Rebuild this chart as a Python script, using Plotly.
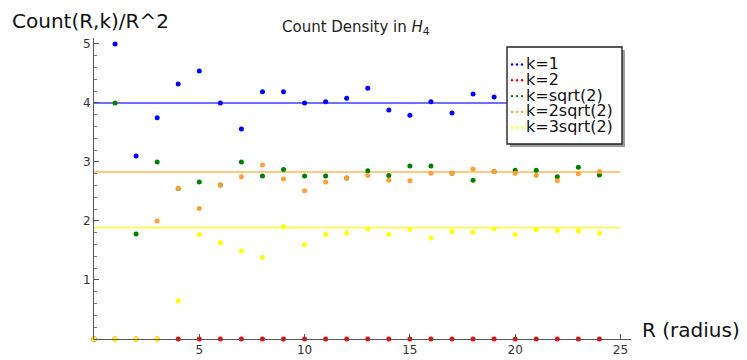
import plotly.graph_objects as go

# ---- data ----
R = list(range(0, 25))
k1 = [0, 5.0, 3.10, 3.75, 4.32, 4.54, 4.0, 3.56, 4.19, 4.19, 4.0, 4.02, 4.08,
      4.25, 3.88, 3.79, 4.02, 3.83, 4.15, 4.10, 4.0, 4.05, 3.98, 4.02, 4.0]
k2 = [0] * 25
ksqrt2 = [0, 4.0, 1.78, 3.0, 2.55, 2.66, 2.61, 3.0, 2.76, 2.87, 2.76, 2.76, 2.73,
          2.85, 2.77, 2.93, 2.93, 2.81, 2.69, 2.84, 2.86, 2.86, 2.75, 2.91, 2.78]
k2sqrt2 = [0, 0, 0, 2.0, 2.55, 2.21, 2.61, 2.75, 2.95, 2.71, 2.51, 2.66, 2.73,
           2.77, 2.69, 2.68, 2.81, 2.81, 2.88, 2.84, 2.81, 2.77, 2.68, 2.80, 2.84]
k3sqrt2 = [0, 0, 0, 0, 0.65, 1.77, 1.63, 1.49, 1.38, 1.90, 1.60, 1.77, 1.79,
           1.87, 1.77, 1.86, 1.71, 1.82, 1.81, 1.87, 1.77, 1.85, 1.84, 1.83, 1.79]
names = ["k=1", "k=2", "k=sqrt(2)", "k=2sqrt(2)", "k=3sqrt(2)"]
ref_x = [0, 25]
ref_levels = [4.0, 2.83, 1.885]

colors = ["#0000ff", "#ff0000", "#008000", "#ffa030", "#ffff00"]
line_colors = ["rgba(40,40,255,0.9)", "rgba(255,165,40,0.8)", "rgba(255,255,0,0.85)"]

# page has an 8px body margin; figure sized to fit the window
OFF = 8
W, H = 747 - OFF, 360 - OFF
# plot area in window pixel coordinates
L, Rr, T, B = 94, 631, 38, 339


def px(x):
    return (x - L) / (Rr - L)


def py(y):
    return (B - y) / (B - T)


fig = go.Figure()
for lvl, lc in zip(ref_levels, line_colors):
    fig.add_trace(go.Scatter(x=ref_x, y=[lvl, lvl], mode="lines",
                             line=dict(color=lc, width=1.5), showlegend=False,
                             hoverinfo="skip"))

for ys, c, n in zip([k1, k2, ksqrt2, k2sqrt2, k3sqrt2], colors, names):
    fig.add_trace(go.Scatter(x=R, y=ys, mode="markers", name=n,
                             marker=dict(color=c, size=5, line=dict(width=0)),
                             cliponaxis=False, showlegend=False))

shapes = []
# legend shadow and box
bx0, bx1, by0, by1 = 507, 622, 47, 144
shapes.append(dict(type="rect", xref="paper", yref="paper",
                   x0=px(bx0 + 3), x1=px(bx1 + 3), y0=py(by0 + 3), y1=py(by1 + 3),
                   fillcolor="rgba(90,90,90,0.6)", line=dict(width=0), layer="above"))
shapes.append(dict(type="rect", xref="paper", yref="paper",
                   x0=px(bx0), x1=px(bx1), y0=py(by0), y1=py(by1),
                   fillcolor="white", line=dict(color="#222", width=1.4), layer="above"))
annotations = []
for i, (n, c) in enumerate(zip(names, colors)):
    yc = 63.5 + 15.8 * i
    for dx in (512, 517, 522):
        shapes.append(dict(type="circle", xref="paper", yref="paper",
                           xsizemode="pixel", ysizemode="pixel",
                           xanchor=px(dx), yanchor=py(yc + 1),
                           x0=-1.2, x1=1.2, y0=-1.2, y1=1.2,
                           fillcolor=c, line=dict(width=0), layer="above"))
    annotations.append(dict(x=px(525), y=py(yc), xref="paper", yref="paper",
                            text=n, showarrow=False, xanchor="left", yanchor="middle",
                            borderpad=0,
                            font=dict(family="DejaVu Sans", size=16, color="#111")))

annotations.append(dict(x=px(356), y=py(27), xref="paper", yref="paper",
                        text="Count Density in <i>H</i><sub>4</sub>", showarrow=False,
                        xanchor="center", yanchor="middle",
                        font=dict(family="DejaVu Sans", size=15, color="#222")))
annotations.append(dict(x=px(11), y=py(21), xref="paper", yref="paper",
                        text="Count(R,k)/R^2", showarrow=False,
                        xanchor="left", yanchor="middle", borderpad=0,
                        font=dict(family="DejaVu Sans", size=20, color="#111")))
annotations.append(dict(x=px(640), y=py(330), xref="paper", yref="paper",
                        text="R (radius)", showarrow=False,
                        xanchor="left", yanchor="middle",
                        font=dict(family="DejaVu Sans", size=20, color="#111")))

axis_common = dict(showgrid=False, zeroline=False, showline=True, linecolor="#555",
                   linewidth=1, ticks="inside", ticklen=5, tickcolor="#555",
                   tickfont=dict(family="DejaVu Sans", size=12, color="#333"),
                   automargin=False, fixedrange=True)

fig.update_layout(
    width=W, height=H,
    margin=dict(l=L - OFF, r=747 - Rr, t=T - OFF, b=360 - B, pad=0),
    paper_bgcolor="white", plot_bgcolor="white",
    showlegend=False,
    xaxis=dict(range=[0, 25.5], tickvals=[5, 10, 15, 20, 25], **axis_common),
    yaxis=dict(range=[0, 5.1], tickvals=[1, 2, 3, 4, 5],
               minor=dict(dtick=0.2, ticks="inside", ticklen=3, tickcolor="#777"),
               **axis_common),
    shapes=shapes, annotations=annotations,
)

fig.write_html("out.html")
